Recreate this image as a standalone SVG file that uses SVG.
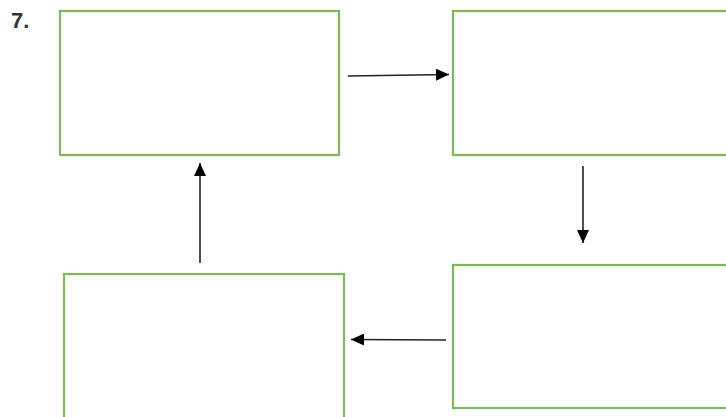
<svg xmlns="http://www.w3.org/2000/svg" width="726" height="417" viewBox="0 0 726 417">
<defs>
<style>
.box{fill:#ffffff;stroke:#80b75a;stroke-width:2.2}
.conn{stroke:#222;stroke-width:1.6;fill:none}
.lbl{font-family:"Liberation Sans",Arial,sans-serif;font-size:22px;font-weight:bold;fill:#333}
</style>
<marker id="ah" viewBox="0 0 13 12" refX="13" refY="6" markerWidth="13" markerHeight="12" markerUnits="userSpaceOnUse" orient="auto">
<path d="M0,0 L13,6 L0,12 z" fill="#000"/>
</marker>
</defs>
<rect width="726" height="417" fill="#ffffff"/>
<text class="lbl" x="11" y="28">7.</text>
<g id="node1"><rect class="box" x="60" y="11" width="279" height="144"/></g>
<g id="node2"><rect class="box" x="453" y="11" width="280" height="144"/></g>
<g id="node3"><rect class="box" x="453" y="265" width="280" height="143"/></g>
<g id="node4"><rect class="box" x="64" y="274" width="280" height="150"/></g>
<g id="connectors">
<line class="conn" x1="348" y1="76" x2="449" y2="74.5" marker-end="url(#ah)"/>
<line class="conn" x1="583" y1="166" x2="583" y2="243" marker-end="url(#ah)"/>
<line class="conn" x1="446" y1="340" x2="351" y2="339.5" marker-end="url(#ah)"/>
<line class="conn" x1="200" y1="263" x2="200" y2="163" marker-end="url(#ah)"/>
</g>
</svg>
